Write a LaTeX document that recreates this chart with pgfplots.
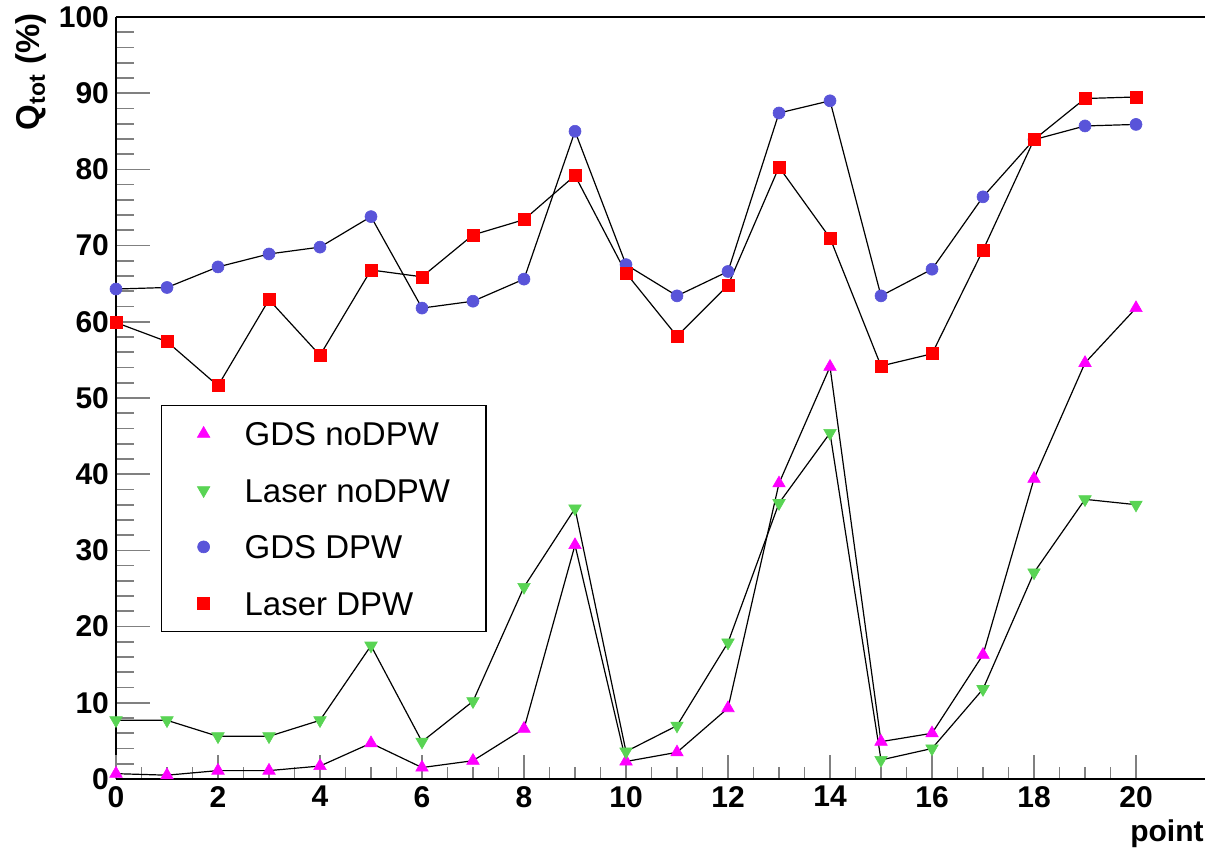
\documentclass[border=0pt]{standalone}
\usepackage{fontspec}
\setmainfont{Liberation Sans}
\usepackage{pgfplots}
\pgfplotsset{compat=1.18}
\definecolor{rootblue}{RGB}{89,84,217}
\definecolor{rootgreen}{RGB}{89,212,84}
\definecolor{rootmagenta}{RGB}{255,0,255}
\definecolor{rootred}{RGB}{255,0,0}
\begin{document}
\begin{tikzpicture}
% y axis (ticks, labels)
\begin{axis}[
  name=ay,
  scale only axis,
  width=545.7pt, height=381pt,
  xmin=0, xmax=21.4, ymin=0, ymax=100,
  axis x line=none, axis y line=left,
  y axis line style={-, line width=1.4pt},
  ytick={0,10,...,100}, minor y tick num=4,
  tick align=inside,
  major tick length=17pt, minor tick length=9pt,
  ytick style={line width=0.85pt},
  /pgf/number format/assume math mode=true,
  ticklabel style={font=\fontsize{15}{15}\selectfont\bfseries},
  ylabel={Q\textsubscript{tot} (\%)},
  ylabel style={font=\fontsize{16.5}{16.5}\selectfont\bfseries, at={(axis description cs:-0.0632,1.0053)}, anchor=south east, inner sep=0pt},
]
\end{axis}
\begin{axis}[
  name=ax,
  scale only axis,
  width=545.7pt, height=381pt,
  xmin=0, xmax=21.4, ymin=0, ymax=100,
  axis x line=bottom, axis y line=none,
  x axis line style={-, line width=1pt},
  xtick={0,2,...,20},
  minor x tick num=3,
  tick align=inside,
  major tick length=12pt, minor tick length=6pt,
  xtick style={line width=0.8pt},
  /pgf/number format/assume math mode=true,
  ticklabel style={font=\fontsize{15}{15}\selectfont\bfseries},
  xlabel={point},
  xlabel style={font=\fontsize{15}{15}\selectfont\bfseries, at={(axis description cs:0.9969,0)}, anchor=base east, yshift=-31.5pt, inner sep=0pt},
  legend cell align=left,
  legend image code/.code={\path[draw=none,fill=none] (-2.5pt,-6pt) rectangle (12pt,6pt); \draw[#1, only marks] plot coordinates {(0pt,0pt)};},
  legend style={at={(rel axis cs:0.04096,0.4908)}, anchor=north west, draw=black, line width=0.7pt,
    inner xsep=18pt, inner ysep=8pt, row sep=16.3pt, column sep=8.5pt,
    font=\fontsize{16.5}{16.5}\selectfont,
    nodes={inner xsep=0pt, inner ysep=0pt, text height=12pt, text depth=0pt}},
]
\addplot[black, line width=0.6pt, mark=triangle*, mark size=3.6pt, mark options={draw=rootmagenta, fill=rootmagenta, line width=0.3pt}] coordinates {
(0,0.7) (1,0.5) (2,1.1) (3,1.1) (4,1.7) (5,4.7) (6,1.5) (7,2.4) (8,6.6) (9,30.7) (10,2.3)
(11,3.5) (12,9.3) (13,38.8) (14,54.1) (15,4.9) (16,6.0) (17,16.3) (18,39.4) (19,54.6) (20,61.8)};
\addlegendentry{GDS noDPW}
\addplot[black, line width=0.6pt, mark=triangle*, mark size=3.6pt, mark options={rotate=180, draw=rootgreen, fill=rootgreen, line width=0.3pt}] coordinates {
(0,7.7) (1,7.7) (2,5.6) (3,5.6) (4,7.7) (5,17.5) (6,4.9) (7,10.2) (8,25.2) (9,35.5) (10,3.6)
(11,7.0) (12,17.9) (13,36.2) (14,45.4) (15,2.5) (16,4.0) (17,11.8) (18,27.1) (19,36.7) (20,36.0)};
\addlegendentry{Laser noDPW}
\addplot[black, line width=0.6pt, mark=*, mark size=3pt, mark options={draw=rootblue, fill=rootblue, line width=0.3pt}] coordinates {
(0,64.3) (1,64.5) (2,67.2) (3,68.9) (4,69.8) (5,73.8) (6,61.8) (7,62.7) (8,65.6) (9,85.0) (10,67.5)
(11,63.4) (12,66.6) (13,87.4) (14,89.0) (15,63.4) (16,66.9) (17,76.4) (18,83.9) (19,85.7) (20,85.9)};
\addlegendentry{GDS DPW}
\addplot[black, line width=0.6pt, mark=square*, mark size=3pt, mark options={draw=rootred, fill=rootred, line width=0.3pt}] coordinates {
(0,59.9) (1,57.4) (2,51.6) (3,62.9) (4,55.6) (5,66.8) (6,65.9) (7,71.4) (8,73.4) (9,79.2) (10,66.4)
(11,58.1) (12,64.8) (13,80.3) (14,71.0) (15,54.2) (16,55.8) (17,69.4) (18,83.9) (19,89.3) (20,89.5)};
\addlegendentry{Laser DPW}
\draw[line width=0.8pt] (rel axis cs:0,1) -- (rel axis cs:1,1);
\end{axis}
\pgfresetboundingbox
\path[use as bounding box] ([shift={(-58pt,-35pt)}]ax.south west) rectangle ([shift={(544.5pt,389.5pt)}]ax.south west);
\end{tikzpicture}
\end{document}
